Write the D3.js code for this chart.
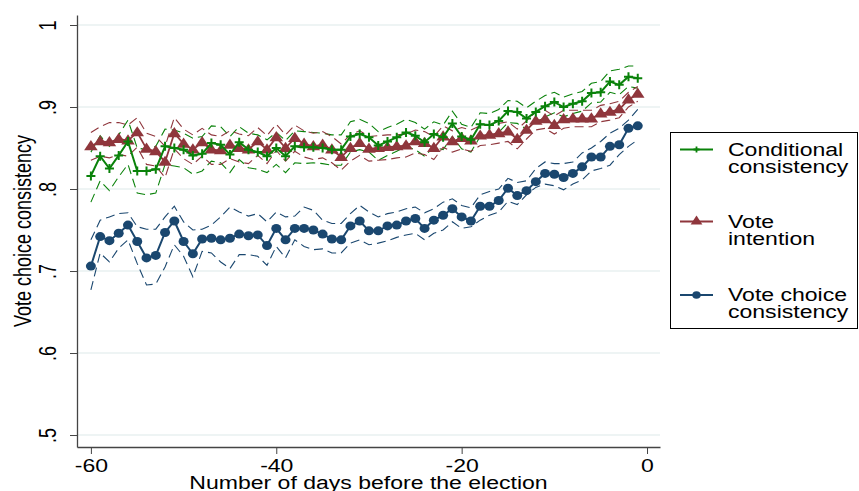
<!DOCTYPE html>
<html><head><meta charset="utf-8">
<script src="https://cdn.jsdelivr.net/npm/d3@7"></script>
<style>body{margin:0;background:#fff}svg{display:block}text{font-family:"Liberation Sans",Arial,Helvetica,sans-serif}</style>
</head><body>
<svg id="chart" width="859" height="491"></svg>
<script>
const days = [-60,-59,-58,-57,-56,-55,-54,-53,-52,-51,-50,-49,-48,-47,-46,-45,-44,-43,-42,-41,
-40,-39,-38,-37,-36,-35,-34,-33,-32,-31,-30,-29,-28,-27,-26,-25,-24,-23,-22,-21,
-20,-19,-18,-17,-16,-15,-14,-13,-12,-11,-10,-9,-8,-7,-6,-5,-4,-3,-2,-1];

const voteChoice = [.706,.742,.737,.746,.756,.736,.716,.719,.747,.761,
.736,.721,.739,.740,.738,.740,.745,.743,.744,.731,
.752,.738,.752,.752,.750,.745,.739,.738,.755,.761,
.749,.749,.755,.756,.761,.764,.752,.762,.768,.776,
.766,.761,.779,.779,.786,.801,.792,.798,.809,.819,
.818,.814,.819,.827,.839,.839,.852,.854,.874,.877];
const voteChoiceHi = [.738,.762,.766,.770,.771,.754,.751,.751,.766,.779,
.760,.750,.751,.756,.766,.778,.772,.767,.770,.760,
.772,.766,.767,.778,.774,.762,.758,.758,.770,.780,
.772,.766,.770,.772,.776,.778,.771,.776,.784,.788,
.780,.777,.793,.797,.800,.813,.808,.810,.825,.833,
.831,.831,.833,.844,.850,.858,.868,.874,.884,.897];
const voteChoiceLo = [.677,.722,.711,.728,.738,.709,.683,.684,.705,.732,
.718,.693,.724,.722,.711,.703,.720,.720,.718,.707,
.730,.716,.738,.730,.726,.727,.722,.722,.734,.738,
.732,.734,.737,.741,.744,.746,.738,.746,.750,.760,
.752,.754,.762,.768,.772,.785,.781,.793,.802,.806,
.804,.799,.806,.811,.822,.825,.829,.842,.852,.860];

const conditional = [.816,.840,.825,.841,.858,.822,.822,.824,.852,.850,
.848,.841,.843,.856,.854,.842,.857,.848,.845,.840,
.850,.840,.852,.851,.851,.850,.848,.848,.864,.867,
.863,.853,.858,.863,.869,.865,.857,.867,.863,.880,
.864,.860,.879,.878,.883,.895,.894,.886,.894,.901,
.906,.900,.904,.907,.917,.918,.931,.927,.937,.935];
const conditionalHi = [.845,.865,.852,.866,.884,.850,.848,.852,.873,.872,
.868,.862,.864,.877,.876,.864,.876,.868,.866,.860,
.869,.859,.871,.870,.869,.868,.866,.866,.882,.885,
.880,.870,.875,.879,.885,.881,.873,.882,.878,.895,
.879,.875,.893,.892,.897,.908,.907,.899,.907,.914,
.918,.912,.916,.919,.929,.931,.944,.946,.950,.950];
const conditionalLo = [.784,.810,.798,.815,.830,.795,.793,.795,.830,.828,
.826,.818,.822,.834,.832,.820,.836,.826,.824,.820,
.830,.820,.832,.831,.832,.831,.829,.829,.845,.848,
.845,.835,.841,.846,.852,.848,.840,.851,.848,.864,
.849,.845,.864,.864,.869,.881,.880,.873,.881,.888,
.893,.888,.892,.895,.905,.906,.918,.915,.925,.923];

const intention = [.852,.858,.857,.861,.859,.869,.849,.846,.833,.868,
.855,.848,.857,.848,.847,.854,.850,.848,.858,.848,
.863,.850,.862,.855,.852,.854,.848,.839,.850,.856,
.849,.850,.851,.852,.853,.858,.856,.850,.864,.858,
.862,.859,.865,.866,.868,.870,.861,.872,.883,.885,
.878,.885,.886,.886,.886,.892,.894,.897,.909,.916];
const intentionHi = [.869,.876,.881,.881,.878,.887,.868,.864,.852,.887,
.873,.866,.874,.866,.864,.871,.867,.865,.875,.865,
.879,.866,.878,.871,.868,.870,.864,.855,.866,.871,
.864,.865,.866,.866,.867,.872,.870,.864,.877,.871,
.875,.872,.877,.878,.880,.882,.873,.883,.894,.896,
.889,.896,.896,.896,.896,.902,.904,.907,.918,.925];
const intentionLo = [.835,.840,.838,.842,.840,.851,.830,.828,.814,.849,
.837,.830,.840,.830,.830,.837,.833,.831,.841,.831,
.847,.834,.846,.839,.836,.838,.832,.823,.834,.841,
.834,.835,.836,.838,.839,.844,.842,.836,.851,.845,
.849,.846,.853,.854,.856,.858,.849,.861,.872,.874,
.867,.874,.876,.876,.876,.882,.884,.887,.900,.907];

const yTicks = [0.5,0.6,0.7,0.8,0.9,1];
const yTickLabels = [".5",".6",".7",".8",".9","1"];
const xTicks = [-60,-40,-20,0];
const xTickLabels = ["-60","-40","-20","0"];
const legendLabels = [["Conditional","consistency"],["Vote","intention"],["Vote choice","consistency"]];
const yTitle = "Vote choice consistency";
const xTitle = "Number of days before the election";

const GREEN = "#0a820a", RED = "#8f363c", BLUE = "#1a476f";
const FS = 18, SX = 1.28;

const svg = d3.select("#chart");
const x = d3.scaleLinear().domain([-61.5, 1.4]).range([77, 660]);
const y = d3.scaleLinear().domain([0.4854, 1.0122]).range([447, 15]);

// gridlines
svg.append("g").selectAll("line").data(yTicks).join("line")
  .attr("x1", 77).attr("x2", 660)
  .attr("y1", d => y(d)).attr("y2", d => y(d))
  .attr("stroke", "#e8f0f1").attr("stroke-width", 1.5);

// axes
const yAxis = svg.append("g").attr("transform", "translate(77,0)")
  .call(d3.axisLeft(y).tickValues(yTicks).tickSize(7).tickSizeOuter(0)
    .tickFormat((d, i) => yTickLabels[i]));
yAxis.selectAll("text")
  .attr("x", null).attr("dy", null).attr("text-anchor", "middle")
  .attr("transform", `translate(-21,0) scale(${SX},1) rotate(-90)`)
  .attr("font-size", FS).attr("fill", "#000");
yAxis.selectAll("line").attr("stroke", "#444");
yAxis.select(".domain").attr("stroke", "#444").attr("stroke-width", 1.3);

const xAxis = svg.append("g").attr("transform", "translate(0,447)")
  .call(d3.axisBottom(x).tickValues(xTicks).tickSize(7).tickSizeOuter(0)
    .tickFormat((d, i) => xTickLabels[i]));
xAxis.selectAll("text").attr("y", null).attr("dy", null)
  .attr("transform", `translate(0,25) scale(${SX},1)`)
  .attr("font-size", FS).attr("fill", "#000");
xAxis.selectAll("line").attr("stroke", "#444");
xAxis.select(".domain").attr("stroke", "#444").attr("stroke-width", 1.3);

// titles
svg.append("text").attr("transform", `translate(30.5,231) scale(${SX},1) rotate(-90)`)
  .attr("text-anchor", "middle").attr("font-size", FS).text(yTitle);
svg.append("text").attr("transform", `translate(368.5,489) scale(${SX},1)`)
  .attr("text-anchor", "middle").attr("font-size", FS).text(xTitle);

const line = arr => d3.line().x((d, i) => x(days[i])).y(d => y(d))(arr);

// confidence bands (dashed)
[[conditionalHi, GREEN], [conditionalLo, GREEN], [intentionHi, RED], [intentionLo, RED],
 [voteChoiceHi, BLUE], [voteChoiceLo, BLUE]].forEach(([arr, c]) => {
  svg.append("path").attr("d", line(arr)).attr("fill", "none")
    .attr("stroke", c).attr("stroke-width", 1.1).attr("stroke-dasharray", "9,5");
});

const tri = d3.symbol().type(d3.symbolTriangle).size(60);
const plusPath = s => `M${-s},0H${s}M0,${-s}V${s}`;

// vote intention
svg.append("path").attr("d", line(intention)).attr("fill", "none")
  .attr("stroke", RED).attr("stroke-width", 1.8);
svg.append("g").selectAll("path").data(intention).join("path")
  .attr("transform", (d, i) => `translate(${x(days[i])},${y(d) + 0.5}) scale(1.15,1)`)
  .attr("d", tri()).attr("fill", RED);

// conditional
svg.append("path").attr("d", line(conditional)).attr("fill", "none")
  .attr("stroke", GREEN).attr("stroke-width", 2);
svg.append("g").selectAll("path").data(conditional).join("path")
  .attr("transform", (d, i) => `translate(${x(days[i])},${y(d)})`)
  .attr("d", plusPath(4.5)).attr("stroke", GREEN).attr("stroke-width", 2).attr("fill", "none");

// vote choice
svg.append("path").attr("d", line(voteChoice)).attr("fill", "none")
  .attr("stroke", BLUE).attr("stroke-width", 2);
svg.append("g").selectAll("ellipse").data(voteChoice).join("ellipse")
  .attr("cx", (d, i) => x(days[i])).attr("cy", d => y(d)).attr("rx", 5).attr("ry", 4.5).attr("fill", BLUE);

// legend
const lg = svg.append("g");
lg.append("rect").attr("x", 670.5).attr("y", 132.5).attr("width", 187).attr("height", 196)
  .attr("fill", "#fff").attr("stroke", "#000").attr("stroke-width", 1);
const legendRows = [155.5, 227.5, 301];
const legendColors = [GREEN, RED, BLUE];
legendLabels.forEach((lbl, k) => {
  const by = legendRows[k];
  const sy = by - 6;
  lg.append("line").attr("x1", 680).attr("x2", 713).attr("y1", sy).attr("y2", sy)
    .attr("stroke", legendColors[k]).attr("stroke-width", 1.8);
  if (k === 0) lg.append("path").attr("transform", `translate(696.5,${sy})`).attr("d", plusPath(3))
    .attr("stroke", GREEN).attr("stroke-width", 1.8);
  if (k === 1) lg.append("path").attr("transform", `translate(696.5,${sy}) scale(1.15,1)`).attr("d", d3.symbol().type(d3.symbolTriangle).size(45)())
    .attr("fill", RED);
  if (k === 2) lg.append("ellipse").attr("cx", 696.5).attr("cy", sy).attr("rx", 4.2).attr("ry", 3.8).attr("fill", BLUE);
  lbl.forEach((t, j) => {
    lg.append("text").attr("transform", `translate(728,${by + j * 17}) scale(${SX},1)`)
      .attr("font-size", FS).text(t);
  });
});
</script>
</body></html>
